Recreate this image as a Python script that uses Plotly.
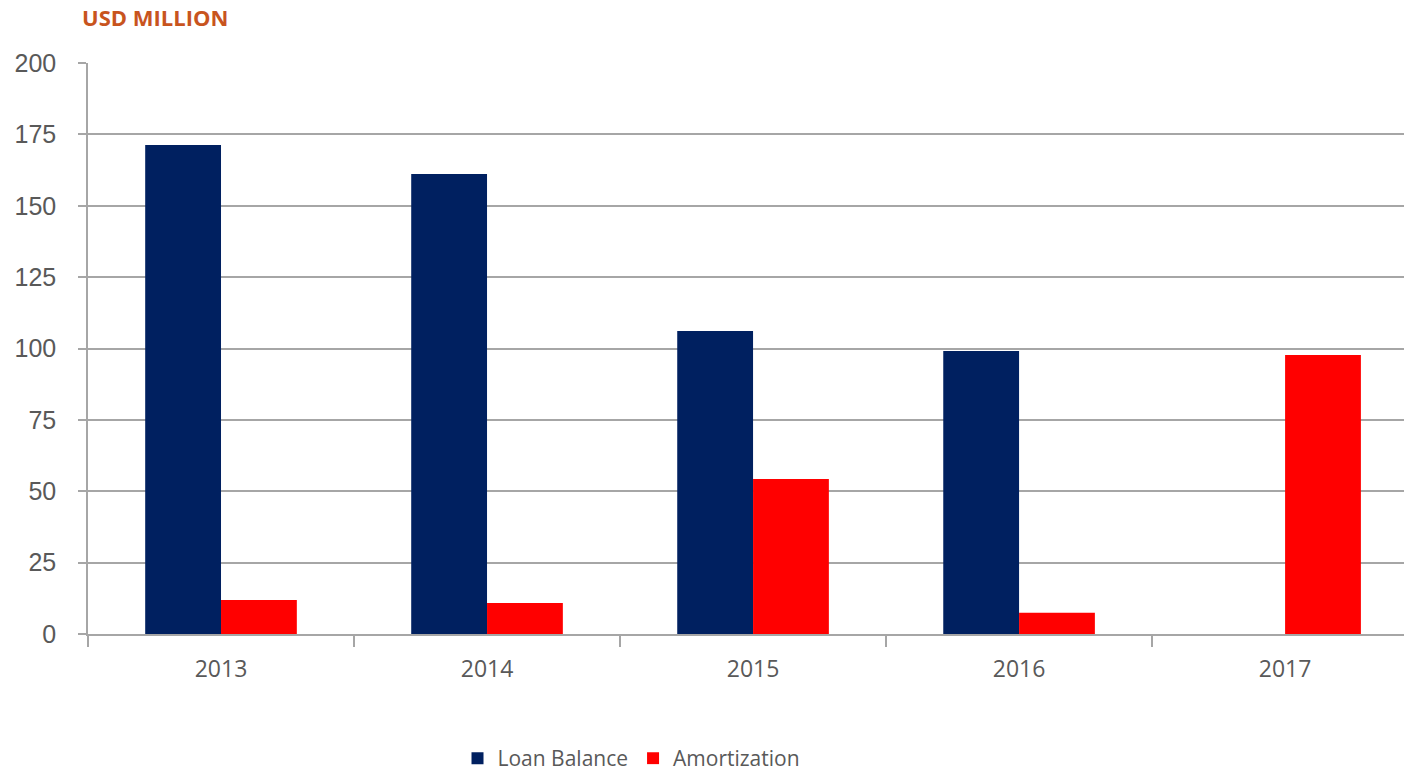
import plotly.graph_objects as go

years = ["2013", "2014", "2015", "2016", "2017"]
loan_balance = [171.3, 161.1, 106.1, 99.1, None]
amortization = [11.9, 10.9, 54.3, 7.4, 97.7]

grid_col = "#A6A6A6"
text_col = "#595959"

fig = go.Figure()
fig.add_trace(go.Bar(name="Loan Balance", x=years, y=loan_balance,
                     marker=dict(color="#002060", line=dict(width=0))))
fig.add_trace(go.Bar(name="Amortization", x=years, y=amortization,
                     marker=dict(color="#FF0000", line=dict(width=0))))

fig.update_layout(
    width=1404, height=773,
    margin=dict(l=88, r=0, t=63, b=139, autoexpand=False),
    paper_bgcolor="white", plot_bgcolor="white",
    barmode="group", bargap=0.43, bargroupgap=0,
    font=dict(family="Open Sans", color=text_col),
    showlegend=True,
    legend=dict(orientation="h", x=0.413, xanchor="center", y=-0.218, yanchor="middle",
                font=dict(size=21, color=text_col), itemwidth=30,
                traceorder="normal", borderwidth=0),
)
fig.add_annotation(text="<b>USD MILLION</b>", xref="paper", yref="paper",
                   x=-0.006, y=1.0806, xanchor="left", yanchor="middle", showarrow=False,
                   font=dict(family="Open Sans", size=22, color="#C8541E"))

fig.update_xaxes(
    range=[-0.5, 4.447], tickson="boundaries", ticks="outside", ticklen=11,
    tickcolor=grid_col, tickwidth=1.5, showline=True, linecolor=grid_col, linewidth=1.5,
    showgrid=False, tickfont=dict(size=23, color=text_col), ticklabelstandoff=14,
)
fig.update_yaxes(
    range=[0, 200], dtick=25, tick0=0, showgrid=True, gridcolor=grid_col, gridwidth=1.5,
    ticks="outside", ticklen=8, tickcolor=grid_col, tickwidth=1.5,
    showline=True, linecolor=grid_col, linewidth=1.5, zeroline=False,
    tickfont=dict(family="Liberation Sans", size=25, color=text_col), ticklabelstandoff=17,
)

fig.write_html("out.html")
